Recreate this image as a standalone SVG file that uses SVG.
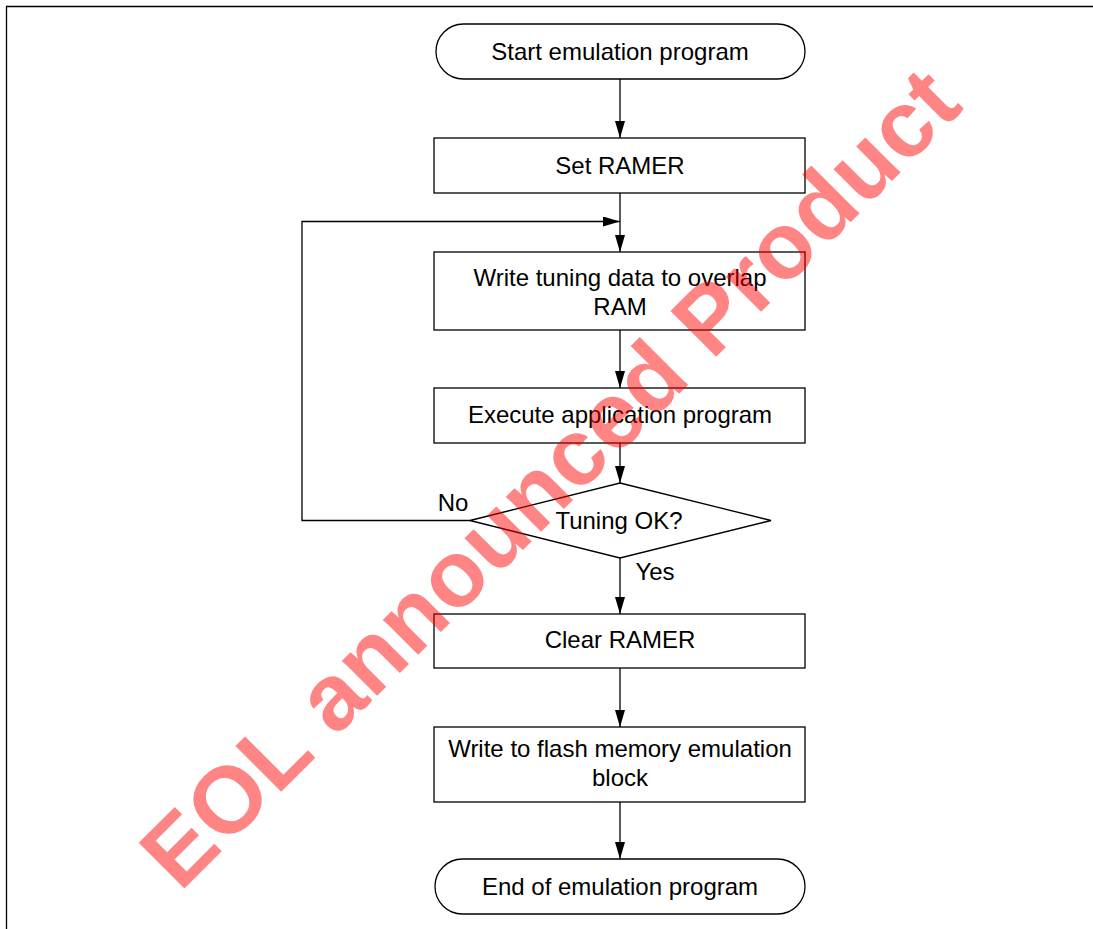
<svg xmlns="http://www.w3.org/2000/svg" width="1093" height="929" viewBox="0 0 1093 929">
<style>
.box{fill:#fff;stroke:#000;stroke-width:1.3}
.lbl{font-family:"Liberation Sans",Arial,sans-serif;font-size:24px;fill:#000;text-anchor:middle}
.cl{fill:none;stroke:#000;stroke-width:1.3}
.wm{font-family:"Liberation Sans",Arial,sans-serif;font-weight:bold;font-size:94px;fill:#ff0000;opacity:0.48}
</style>
<defs>
<marker id="ah" markerWidth="17" markerHeight="10" refX="17" refY="5" viewBox="0 0 17 10" markerUnits="userSpaceOnUse" orient="auto">
<path d="M0,0 L17,5 L0,10 Z" fill="#000"/>
</marker>
</defs>
<rect width="1093" height="929" fill="#fff"/>
<path d="M6.5,929 V6.5 H1093" fill="none" stroke="#000" stroke-width="1.3"/>
<g id="connectors">
<line class="cl" x1="620" y1="79" x2="620" y2="138" marker-end="url(#ah)"/>
<line class="cl" x1="620" y1="193" x2="620" y2="252" marker-end="url(#ah)"/>
<polyline class="cl" points="470,520.5 302,520.5 302,221.5 620,221.5" marker-end="url(#ah)"/>
<line class="cl" x1="620" y1="330" x2="620" y2="388" marker-end="url(#ah)"/>
<line class="cl" x1="620" y1="443" x2="620" y2="483" marker-end="url(#ah)"/>
<line class="cl" x1="620" y1="558" x2="620" y2="614" marker-end="url(#ah)"/>
<line class="cl" x1="620" y1="668" x2="620" y2="727" marker-end="url(#ah)"/>
<line class="cl" x1="620" y1="802" x2="620" y2="859" marker-end="url(#ah)"/>
<text class="lbl" x="453" y="511">No</text>
<text class="lbl" x="655" y="580">Yes</text>
</g>
<g id="start">
<rect class="box" x="436" y="24" width="369" height="55" rx="27.5"/>
<text class="lbl" x="620" y="60">Start emulation program</text>
</g>
<g id="set-ramer">
<rect class="box" x="434" y="138" width="371" height="55"/>
<text class="lbl" x="620" y="174">Set RAMER</text>
</g>
<g id="write-tuning">
<rect class="box" x="434" y="252" width="371" height="78"/>
<text class="lbl" x="620" y="286">Write tuning data to overlap</text>
<text class="lbl" x="620" y="315">RAM</text>
</g>
<g id="execute">
<rect class="box" x="434" y="388" width="371" height="55"/>
<text class="lbl" x="620" y="423">Execute application program</text>
</g>
<g id="tuning-ok">
<polygon class="box" points="620,483 771,520.5 620,558 470,520.5"/>
<text class="lbl" x="619" y="529">Tuning OK?</text>
</g>
<g id="clear-ramer">
<rect class="box" x="434" y="614" width="371" height="54"/>
<text class="lbl" x="620" y="648">Clear RAMER</text>
</g>
<g id="write-flash">
<rect class="box" x="434" y="727" width="371" height="75"/>
<text class="lbl" x="620" y="757">Write to flash memory emulation</text>
<text class="lbl" x="620" y="786">block</text>
</g>
<g id="end">
<rect class="box" x="435" y="859" width="370" height="55" rx="27.5"/>
<text class="lbl" x="620" y="895">End of emulation program</text>
</g>
<text class="wm" transform="translate(180,893) rotate(-45)" textLength="1110" lengthAdjust="spacing">EOL announced Product</text>
</svg>
